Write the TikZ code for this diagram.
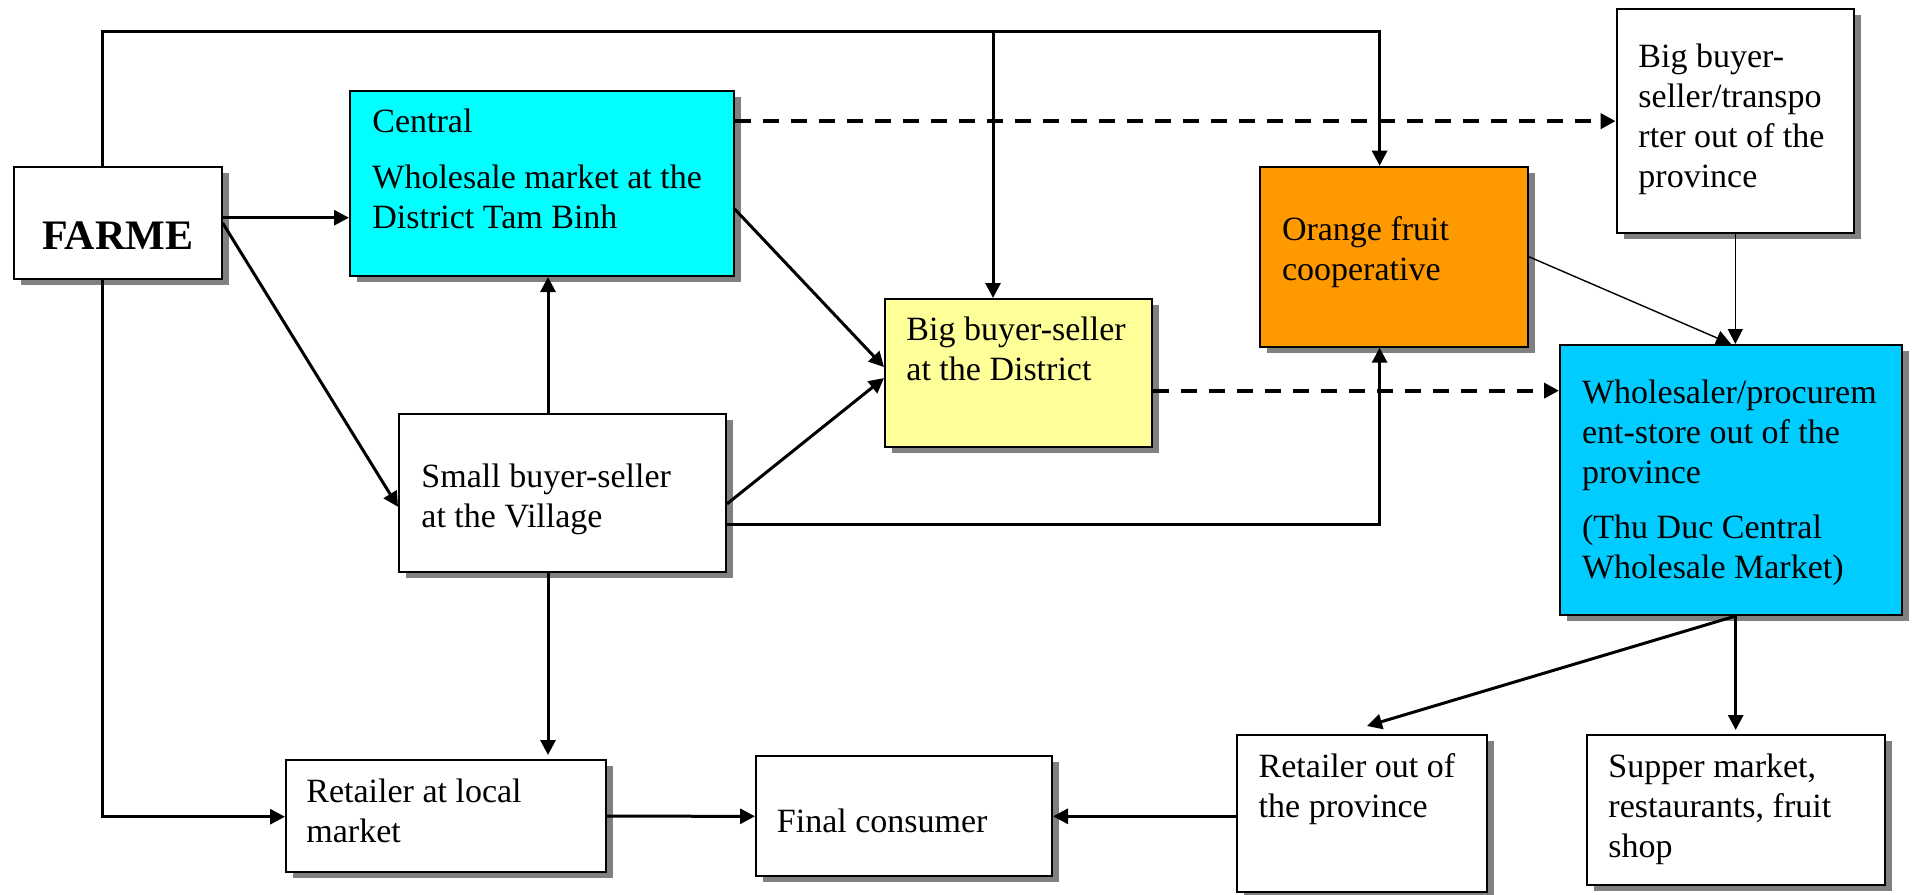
\documentclass[tikz,border=0pt]{standalone}
\usepackage{fontspec}
\setmainfont{Liberation Serif}
\usetikzlibrary{arrows.meta,shadows,fit}
\definecolor{cyanbox}{HTML}{00FFFF}
\definecolor{yellowbox}{HTML}{FFFF99}
\definecolor{orangebox}{HTML}{FF9900}
\definecolor{bluebox}{HTML}{00CCFF}
\begin{document}
\begin{tikzpicture}[x=0.5pt,y=-0.5pt,
  box/.style={draw=black, line width=1pt, inner sep=0pt,
    drop shadow={shadow xshift=3.5pt, shadow yshift=-3pt, fill=black!50, opacity=1}},
  txt/.style={inner sep=0pt, anchor=north west, align=left,
    font=\fontsize{17}{20}\selectfont},
  ln/.style={line width=1.5pt},
  thin ln/.style={line width=0.7pt},
  dash ln/.style={line width=2pt, dash pattern=on 8.3pt off 5.7pt},
  ar/.style={-{Triangle[length=7.5pt,width=7.5pt]}},
  ]
\useasboundingbox (0,0) rectangle (1914,894);

% boxes
\node[box, fill=white, fit={(13.5,166.7) (221.7,279.3)}] (farme) {};
\node[box, fill=cyanbox, fit={(350,90.7) (733.6,276)}] (central) {};
\node[box, fill=yellowbox, fit={(885,299) (1151.8,446.7)}] (yellow) {};
\node[box, fill=orangebox, fit={(1260,166.7) (1527.8,346.7)}] (orange) {};
\node[box, fill=white, fit={(1616.6,9) (1854,233.3)}] (bigbuyer) {};
\node[box, fill=bluebox, fit={(1560,345) (1902,615)}] (wholesaler) {};
\node[box, fill=white, fit={(399,414) (726,571.7)}] (small) {};
\node[box, fill=white, fit={(286,760) (606,872.3)}] (retlocal) {};
\node[box, fill=white, fit={(756,756.3) (1052,876.3)}] (final) {};
\node[box, fill=white, fit={(1237,735) (1486.8,892.3)}] (retout) {};
\node[box, fill=white, fit={(1586.6,735) (1884.8,885)}] (supper) {};

% texts
\node[inner sep=0pt, anchor=base, font=\fontsize{21}{25}\selectfont\bfseries] (t-farme) at (117.6,249) {FARME};
\node[txt] (t-central) at (372,103.7) {\strut Central\\[8.3pt]Wholesale market at the\\District Tam Binh};
\node[txt] (t-yellow) at (906,312) {\strut Big buyer-seller\\at the District};
\node[txt] (t-orange) at (1281.6,212) {\strut Orange fruit\\cooperative};
\node[txt] (t-bigbuyer) at (1638,38.7) {\strut Big buyer-\\seller/transpo\\rter out of the\\province};
\node[txt] (t-wholesaler) at (1581.7,375) {\strut Wholesaler/procurem\\ent-store out of the\\province\\[7.5pt](Thu Duc Central\\Wholesale Market)};
\node[txt] (t-small) at (421,459.3) {\strut Small buyer-seller\\at the Village};
\node[txt] (t-retlocal) at (306,774.3) {\strut Retailer at local\\market};
\node[txt] (t-final) at (776.5,803.7) {\strut Final consumer};
\node[txt] (t-retout) at (1258.3,749.3) {\strut Retailer out of\\the province};
\node[txt] (t-supper) at (1608,749.3) {\strut Supper market,\\restaurants, fruit\\shop};

% helper coordinates
\coordinate (tl) at (102,31.7);
\coordinate (tm) at (993,31.7);
\coordinate (tr) at (1379.6,31.7);
\coordinate (bl) at (102,816.7);
\coordinate (sv) at (1379.6,524.7);
\coordinate (vx) at (548,0);
\coordinate (rtip) at (1367,726);

% connectors from FARME
\draw[ln,ar] (farme.north -| tl) -- (tl) -- (tr) -- (tr |- orange.north);
\draw[ln,ar] (tm) -- (tm |- yellow.north);
\draw[ln,ar] (farme.south -| tl) -- (bl) -- (bl -| retlocal.west);
\draw[ln,ar] ([yshift=2.65pt]farme.east) -- ([yshift=2.65pt]farme.east -| central.west);
\draw[ln,ar] (farme.east) -- ([yshift=-7pt]small.west);

% small buyer
\draw[ln,ar] (small.north -| vx) -- (central.south -| vx);
\draw[ln,ar,shorten >=2pt] (small.south -| vx) -- (retlocal.north -| vx);
\draw[ln,ar] ([yshift=-5.5pt]small.east) -- ([yshift=-2.6pt]yellow.west);
\draw[ln,ar] (small.east |- sv) -- (sv) -- (sv |- orange.south);

% central
\draw[ln,ar] ([yshift=-12.8pt]central.east) -- ([yshift=2.9pt]yellow.west);
\draw[dash ln,ar] (bigbuyer.west -| central.east) -- (bigbuyer.west);
\draw[dash ln,ar] ([yshift=-8.9pt]yellow.east) -- ([yshift=-8.9pt]yellow.east -| wholesaler.west);

% to wholesaler
\draw[thin ln,ar] (orange.east) -- (wholesaler.north);
\draw[thin ln,ar] (bigbuyer.south) -- (bigbuyer.south |- wholesaler.north);

% from wholesaler
\draw[ln,ar] (supper.north |- wholesaler.south) -- (rtip);
\draw[ln,ar,shorten >=2pt] (supper.north |- wholesaler.south) -- (supper.north);

% to final consumer
\draw[ln,ar] (retlocal.east) -- (final.west);
\draw[ln,ar] (retout.west |- final.east) -- (final.east);
\end{tikzpicture}
\end{document}
